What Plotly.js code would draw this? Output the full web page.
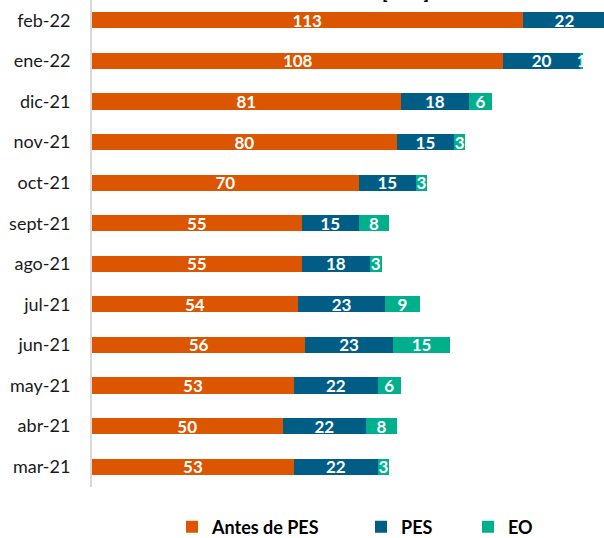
<!DOCTYPE html>
<html>
<head>
<meta charset="utf-8">
<script src="https://cdn.plot.ly/plotly-3.0.1.min.js"></script>
<style>
html,body{margin:0;padding:0;overflow:hidden;background:#fff;}
#chart{width:700px;height:538px;}
</style>
</head>
<body>
<div id="chart"></div>
<script>
const months = ["mar-21","abr-21","may-21","jun-21","jul-21","ago-21","sept-21","oct-21","nov-21","dic-21","ene-22","feb-22"];
const antesPES = [53,50,53,56,54,55,55,70,80,81,108,113];
const pes = [22,22,22,23,23,18,15,15,15,18,20,22];
const eo = [3,8,6,15,9,3,8,3,3,6,1,2];
const seriesNames = ["Antes de PES","PES","EO"];
const colors = ["#DC5500","#005E86","#00B08C"];
const legendIds = ["legend","legend2","legend3"];

const fontFam = "Lato, 'Open Sans', sans-serif";
function mk(vals, i){
  return {
    type:"bar", orientation:"h", y:months, x:vals, name:seriesNames[i],
    legend:legendIds[i],
    marker:{color:colors[i]},
    text:vals.map(String), textposition:"inside", insidetextanchor:"middle",
    constraintext:"none", textangle:0,
    textfont:{family:fontFam, size:17, color:"#ffffff", weight:"bold"},
    hoverinfo:"skip"
  };
}
const data = [mk(antesPES,0), mk(pes,1), mk(eo,2)];
function leg(xpx){
  return {orientation:"h", xref:"container", x:xpx/700, xanchor:"left",
          yref:"container", y:11/538, yanchor:"middle",
          font:{family:fontFam, size:18, color:"#000", weight:"bold"},
          bgcolor:"rgba(0,0,0,0)", borderwidth:0};
}
const layout = {
  width:700, height:538,
  margin:{l:92, r:0, t:0, b:51},
  barmode:"stack", bargap:0.6,
  paper_bgcolor:"#fff", plot_bgcolor:"#fff",
  font:{family:fontFam, color:"#000"},
  xaxis:{range:[0,608/3.81], visible:false, fixedrange:true},
  yaxis:{type:"category", showline:true, linecolor:"#d9d9d9", linewidth:2,
         ticks:"", showgrid:false, zeroline:false, ticklabelstandoff:16,
         tickfont:{family:fontFam, size:18, color:"#1a1a1a"}},
  showlegend:true,
  legend:leg(172), legend2:leg(361), legend3:leg(468),
  annotations:[{text:"[MW]", xref:"x", x:82.4, yref:"paper", y:1, yanchor:"bottom",
                yshift:-5, showarrow:false, font:{family:fontFam, size:18, weight:"bold", color:"#000"}}]
};
Plotly.newPlot("chart", data, layout, {staticPlot:true, displayModeBar:false});
</script>
</body>
</html>
